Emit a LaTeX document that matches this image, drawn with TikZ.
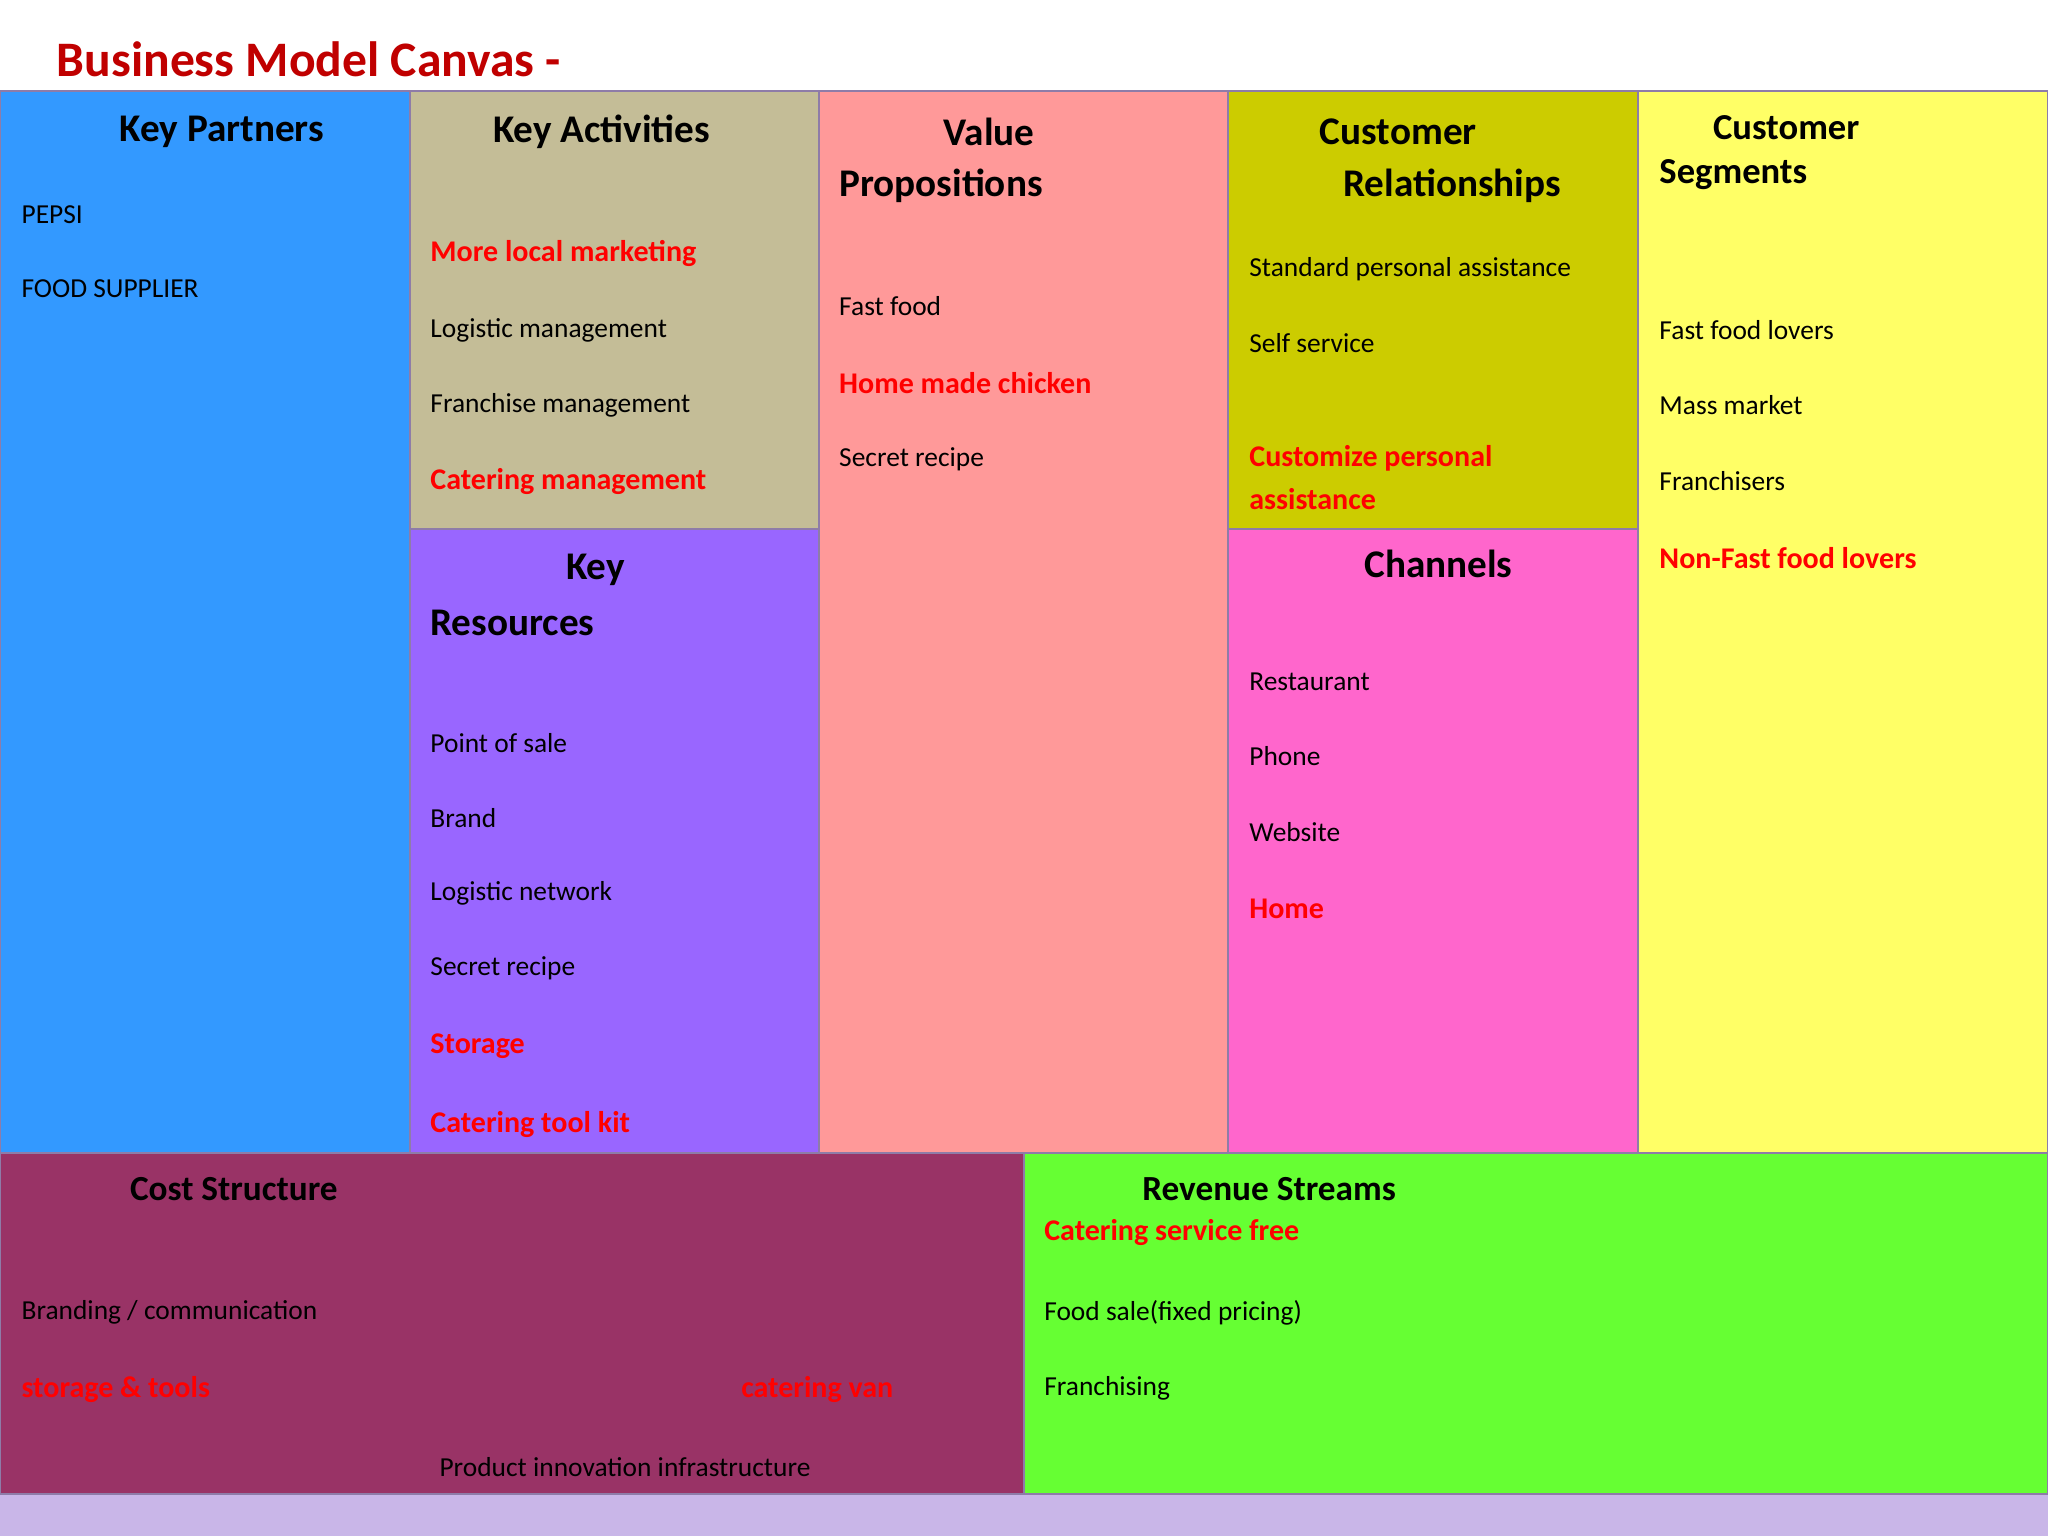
\documentclass[tikz,border=0pt]{standalone}
\usepackage{fontspec}
\setmainfont{Carlito}
\begin{document}
\begin{tikzpicture}[x=1pt,y=-1pt,
 box/.style={draw=bord,line width=1.5pt},
 hd/.style={anchor=west,font=\fontsize{30}{32}\selectfont\bfseries,align=left},
 tx/.style={anchor=west,font=\fontsize{21}{24}\selectfont},
 rd/.style={anchor=west,font=\fontsize{23}{27}\selectfont\bfseries,text=red,align=left}]
\definecolor{bord}{HTML}{8E7CA8}
\definecolor{kp}{HTML}{3399FF}\definecolor{ka}{HTML}{C4BD97}\definecolor{kr}{HTML}{9966FF}
\definecolor{vp}{HTML}{FF9999}\definecolor{cr}{HTML}{CCCC00}\definecolor{ch}{HTML}{FF66CC}
\definecolor{cs}{HTML}{FFFF66}\definecolor{co}{HTML}{993366}\definecolor{rs}{HTML}{66FF33}
\definecolor{lav}{HTML}{C9B6E8}\definecolor{ttl}{HTML}{C00000}
\useasboundingbox (0,0) rectangle (1568,1176);
\fill[white] (0,0) rectangle (1568,1176);
\node[anchor=west,text=ttl,font=\fontsize{38}{40}\selectfont\bfseries] (title) at (40,45) {Business Model Canvas -};
\fill[lav] (0,1144) rectangle (1568,1176);
\draw[box,fill=kp] (0,70) rectangle (314,883);
\draw[box,fill=ka] (314,70) rectangle (627,405);
\draw[box,fill=kr] (314,405) rectangle (627,883);
\draw[box,fill=vp] (627,70) rectangle (940,883);
\draw[box,fill=cr] (940,70) rectangle (1254,405);
\draw[box,fill=ch] (940,405) rectangle (1254,883);
\draw[box,fill=cs] (1254,70) rectangle (1568,883);
\draw[box,fill=co] (0,883) rectangle (784,1144);
\draw[box,fill=rs] (784,883) rectangle (1568,1144);
% Key partners
\node[hd] (h1) at (88,101) {Key Partners};
\node[tx] (a1) at (13,164) {PEPSI};
\node[tx] (a2) at (13,221) {FOOD SUPPLIER};
% Key activities
\node[hd] (h2) at (374,101) {Key Activities};
\node[rd] (b1) at (326,194) {More local marketing};
\node[tx] (b2) at (326,253) {Logistic management};
\node[tx] (b3) at (326,310) {Franchise management};
\node[rd] (b4) at (326,369) {Catering management};
% Key resources
\node[hd] (h3) at (430,436) {Key};
\node[hd] (h3b) at (326,477) {Resources};
\node[tx] (c1) at (326,569) {Point of sale};
\node[tx] (c2) at (326,626) {Brand};
\node[tx] (c3) at (326,684) {Logistic network};
\node[tx] (c4) at (326,741) {Secret recipe};
\node[rd] (c5) at (326,801) {Storage};
\node[rd] (c6) at (326,861) {Catering tool kit};
% Value
\node[hd] (h4) at (719,101) {Value};
\node[hd] (h4b) at (639,142) {Propositions};
\node[tx] (d1) at (639,234) {Fast food};
\node[rd] (d2) at (639,293) {Home made chicken};
\node[tx] (d3) at (639,352) {Secret recipe};
% CR
\node[hd] (h5) at (1007,101) {Customer};
\node[hd] (h5b) at (1025,142) {Relationships};
\node[tx] (e1) at (953,206) {Standard personal assistance};
\node[tx] (e2) at (953,263) {Self service};
\node[rd] (e3) at (953,351) {Customize personal};
\node[rd] (e3b) at (953,382) {assistance};
% Channels
\node[hd] (h6) at (1041,432) {Channels};
\node[tx] (f1) at (953,522) {Restaurant};
\node[tx] (f2) at (953,579) {Phone};
\node[tx] (f3) at (953,637) {Website};
\node[rd] (f4) at (953,696) {Home};
% Segments
\node[hd,font=\fontsize{28}{30}\selectfont\bfseries] (h7) at (1308,98) {Customer};
\node[hd,font=\fontsize{28}{30}\selectfont\bfseries] (h7b) at (1267,134) {Segments};
\node[tx] (g1) at (1267,253) {Fast food lovers};
\node[tx] (g2) at (1267,310) {Mass market};
\node[tx] (g3) at (1267,368) {Franchisers};
\node[rd] (g4) at (1267,427) {Non-Fast food lovers};
% Cost
\node[hd,font=\fontsize{27}{30}\selectfont\bfseries] (h8) at (96,910) {Cost Structure};
\node[tx] (i1) at (13,1005) {Branding / communication};
\node[rd] (i2) at (13,1064) {storage \& tools};
\node[rd] (i3) at (564,1064) {catering van};
\node[tx] (i4) at (333,1123) {Product innovation infrastructure};
% Revenue
\node[hd,font=\fontsize{27}{30}\selectfont\bfseries] (h9) at (871,910) {Revenue Streams};
\node[rd] (j1) at (796,944) {Catering service free};
\node[tx] (j2) at (796,1005) {Food sale(fixed pricing)};
\node[tx] (j3) at (796,1063) {Franchising};
\end{tikzpicture}
\end{document}
